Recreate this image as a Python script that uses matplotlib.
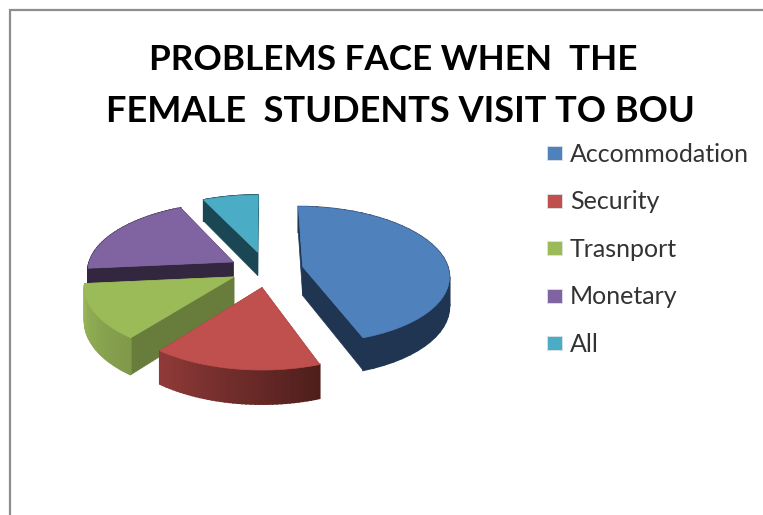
"""
Exploded 3D style pie of the problems female students face when visiting BOU.
"""

import numpy as np
import matplotlib
matplotlib.use('Agg')
import matplotlib.pyplot as plt
from matplotlib.colors import to_rgb
from matplotlib.patches import Polygon, Rectangle

title_lines = ['PROBLEMS FACE WHEN  THE', 'FEMALE  STUDENTS VISIT TO BOU']
categories = ['Accommodation', 'Security', 'Trasnport', 'Monetary', 'All']
values = [44.5, 16, 13, 19.5, 7]

top_colors = ['#4F81BD', '#C0504D', '#9BBB59', '#8064A2', '#4BACC6']
edge_colors = ['#1F3552', '#8A3836', '#687D3C', '#33273F', '#1B4653']
rim_start = ['#1F3552', '#4F1E1C', '#7F994A', '#33273F', '#1B4653']
rim_end = ['#1F3552', '#8F3A38', '#98B657', '#33273F', '#1B4653']
# How far each slice is pulled out of the pie, in radii (right, back)
shift_u = [0.28, 0.0, -0.19, -0.20, -0.03]
shift_v = [0.05, -0.25, -0.10, 0.12, 0.27]
depths = [29, 29, 33, 17, 24]
draw_order = [4, 3, 0, 2, 1]

CENTER_X, CENTER_Y = 262, 270
RADIUS_X, RADIUS_Y = 146, 68
PERSPECTIVE = 0.12


def project(u, v, drop=0):
    """
    Projects points on the pie disc to pixel coordinates, far points shrink a little.
    :param u: Disc coordinate to the right
    :param v: Disc coordinate to the back
    :param drop: Vertical offset in pixels for the underside of the slice
    :return: Array of x, y points
    """
    w = 1 + PERSPECTIVE * v
    return np.column_stack([CENTER_X + RADIUS_X * u / w, CENTER_Y - RADIUS_Y * v / w + drop / w])


def draw_slice(ax, start, end, index):
    """
    Draws one exploded slice, sides first and then the top face.
    :param ax: Axes in pixel coordinates
    :param start: Start angle in radians, clockwise from 12 o'clock
    :param end: End angle in radians
    :param index: Position of the slice in the data lists
    :return: None
    """
    du = shift_u[index]
    dv = shift_v[index]
    angles = np.linspace(start, end, 40)
    rim_u = du + np.sin(angles)
    rim_v = dv + np.cos(angles)
    top_rim = project(rim_u, rim_v)
    low_rim = project(rim_u, rim_v, depths[index])
    apex = project(np.array([du]), np.array([dv]))
    low_apex = project(np.array([du]), np.array([dv]), depths[index])

    # Radial walls
    for i in [0, -1]:
        wall = [apex[0], top_rim[i], low_rim[i], low_apex[0]]
        ax.add_patch(Polygon(wall, closed=True, fc=edge_colors[index], ec=edge_colors[index], lw=0.5))

    # Outer wall, shaded strip by strip along the rim
    c0 = np.array(to_rgb(rim_start[index]))
    c1 = np.array(to_rgb(rim_end[index]))
    for i in range(len(angles) - 1):
        shade = c0 + (c1 - c0) * i / (len(angles) - 2)
        strip = [top_rim[i], top_rim[i + 1], low_rim[i + 1], low_rim[i]]
        ax.add_patch(Polygon(strip, closed=True, fc=shade, ec=shade, lw=1.2))

    face = np.vstack([apex, top_rim])
    ax.add_patch(Polygon(face, closed=True, fc=top_colors[index], ec=top_colors[index], lw=0.5))


plt.rcParams['font.family'] = ['Lato', 'DejaVu Sans']

fig = plt.figure(figsize=(7.63, 5.15), dpi=100)
ax = fig.add_axes([0, 0, 1, 1])
ax.set_xlim(0, 763)
ax.set_ylim(515, 0)
ax.axis('off')

# Chart frame, open to the right and the bottom
ax.plot([10, 10, 763], [515, 10, 10], color='#8E8E8E', lw=1.6, solid_joinstyle='miter')

ax.text(393.5, 60, title_lines[0], ha='center', va='center', fontsize=25.3, fontweight='bold', color='black')
ax.text(400.5, 111, title_lines[1], ha='center', va='center', fontsize=26.1, fontweight='bold', color='black')

fractions = np.array(values) / sum(values)
bounds = np.concatenate([[0], np.cumsum(fractions)]) * 2 * np.pi
for index in draw_order:
    draw_slice(ax, bounds[index], bounds[index + 1], index)

for i, label in enumerate(categories):
    y = 153 + i * 47.6
    ax.add_patch(Rectangle((547, y - 7), 15, 14, fc=top_colors[i], ec='#DDE3EA', lw=0.6))
    ax.text(570, y + 1, label, ha='left', va='center', fontsize=18, color='#333333')

fig.savefig('out.png', dpi=100)
